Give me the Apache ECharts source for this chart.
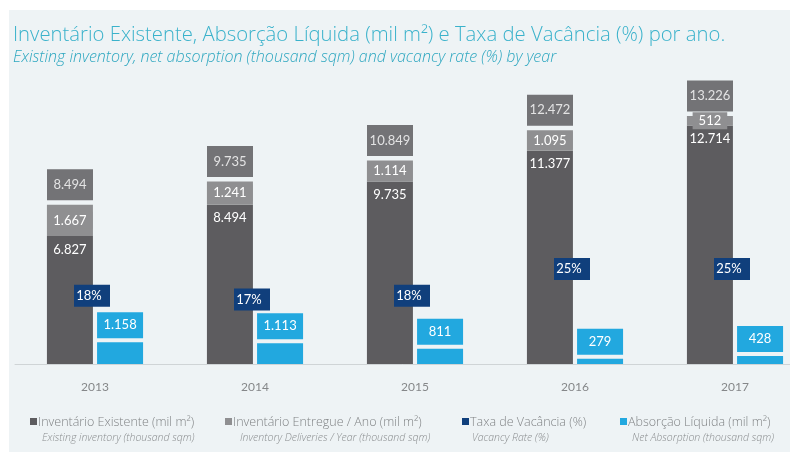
<!DOCTYPE html>
<html>
<head>
<meta charset="utf-8">
<script src="https://cdn.jsdelivr.net/npm/echarts@6/dist/echarts.min.js"></script>
<style>
  html, body { margin: 0; padding: 0; background: #ffffff; }
  #chart { width: 790px; height: 452px; }
</style>
</head>
<body>
<div id="chart"></div>
<script>
// Years on the category axis
var years = ['2013', '2014', '2015', '2016', '2017'];
// Existing inventory at start of year (thousand sqm)
var existing = [6827, 8494, 9735, 11377, 12714];
// Inventory delivered during the year (thousand sqm)
var deliveries = [1667, 1241, 1114, 1095, 512];
// Total inventory at end of year (thousand sqm)
var totals = [8494, 9735, 10849, 12472, 13226];
// Vacancy rate (%)
var vacancy = [18, 17, 18, 25, 25];
// Net absorption (thousand sqm)
var absorption = [1158, 1113, 811, 279, 428];

var C_DARK = '#5d5c5f';
var C_LIGHT = '#8f8f91';
var C_BOX = '#545356';
var C_NAVY = '#103f7c';
var C_CYAN = '#22a8df';
var FONT = 'Lato, "Open Sans", sans-serif';
var FONT_WIDE = '"Open Sans", Lato, sans-serif';

function fmt(n) {
  return String(n).replace(/\B(?=(\d{3})+(?!\d))/g, '.');
}

var chart = echarts.init(document.getElementById('chart'));

var legendItems = [
  { x: 30, color: C_DARK, pt: 'Inventário Existente (mil m²)', en: 'Existing inventory (thousand sqm)', enX: 42 },
  { x: 225, color: C_LIGHT, pt: 'Inventário Entregue / Ano (mil m²)', en: 'Inventory Deliveries / Year (thousand sqm)', enX: 240 },
  { x: 462, color: C_NAVY, pt: 'Taxa de Vacância (%)', en: 'Vacancy Rate (%)', enX: 472 },
  { x: 620, color: C_CYAN, pt: 'Absorção Líquida (mil m²)', en: 'Net Absorption (thousand sqm)', enX: 632 }
];

var graphics = [{
  type: 'rect', z: -10, silent: true,
  shape: { x: 9, y: 10, width: 781, height: 442 },
  style: { fill: '#eef3f5' }
}, {
  type: 'text', silent: true, x: 13, y: 35,
  style: {
    text: 'Inventário Existente, Absorção Líquida (mil m²) e Taxa de Vacância (%) por ano.',
    fill: '#3ab2cb', font: '300 20.3px ' + FONT_WIDE, verticalAlign: 'middle'
  }
}, {
  type: 'text', silent: true, x: 13, y: 57,
  style: {
    text: 'Existing inventory, net absorption (thousand sqm) and vacancy rate (%) by year',
    fill: '#2ea7c0', font: 'italic 300 16px ' + FONT_WIDE, verticalAlign: 'middle'
  }
}];
legendItems.forEach(function (it) {
  graphics.push({
    type: 'rect', silent: true,
    shape: { x: it.x, y: 418, width: 7, height: 7 },
    style: { fill: it.color }
  });
  graphics.push({
    type: 'text', silent: true, x: it.x + 8, y: 422,
    style: { text: it.pt, fill: '#818486', font: '300 12.5px ' + FONT_WIDE, verticalAlign: 'middle' }
  });
  graphics.push({
    type: 'text', silent: true, x: it.enX, y: 438,
    style: { text: it.en, fill: '#8a8d8f', font: 'italic 300 10.5px ' + FONT_WIDE, verticalAlign: 'middle' }
  });
});

chart.setOption({
  backgroundColor: '#ffffff',
  animation: false,
  graphic: graphics,
  grid: { left: 15, width: 800, top: 64, height: 300, outerBoundsMode: 'none', containLabel: false },
  xAxis: {
    type: 'category',
    data: years,
    axisTick: { show: false },
    axisLine: { lineStyle: { color: '#cfd4d6', width: 1 } },
    axisLabel: { color: '#858789', fontFamily: FONT, fontSize: 12, margin: 17 }
  },
  yAxis: [
    { type: 'value', min: 0, max: 16000, show: false },
    { type: 'value', min: 0, max: 79, show: false }
  ],
  series: [
    {
      name: 'Inventário Existente', type: 'bar', stack: 'inv',
      barWidth: 46, barGap: '9%',
      itemStyle: { color: C_DARK },
      label: {
        show: true, position: 'insideTop', distance: 7,
        color: '#ffffff', fontFamily: FONT, fontSize: 13,
        formatter: function (p) { return fmt(p.value); }
      },
      data: existing
    },
    {
      name: 'Inventário Entregue', type: 'bar', stack: 'inv',
      barWidth: 46,
      itemStyle: { color: C_LIGHT },
      label: {
        show: true, position: 'inside',
        color: '#ffffff', fontFamily: FONT, fontSize: 13,
        backgroundColor: C_LIGHT, padding: [2, 6],
        formatter: function (p) { return fmt(p.value); }
      },
      z: 3,
      data: deliveries
    },
    {
      name: 'Absorção Líquida', type: 'bar',
      barWidth: 46,
      itemStyle: { color: C_CYAN },
      label: {
        show: true, position: 'top', distance: 4,
        color: '#ffffff', fontFamily: FONT, fontSize: 13,
        backgroundColor: C_CYAN,
        width: 46, height: 26, lineHeight: 26, align: 'center', padding: 0,
        formatter: function (p) { return fmt(p.value); }
      },
      data: absorption
    },
    {
      name: 'Total', type: 'scatter',
      symbolSize: 1,
      itemStyle: { color: 'rgba(0,0,0,0)' },
      label: {
        show: true, position: 'top', distance: 4, offset: [-25, 0],
        color: '#ffffff', fontFamily: FONT, fontSize: 13,
        backgroundColor: C_BOX,
        width: 46, height: 31, lineHeight: 31, align: 'center', padding: 0,
        formatter: function (p) { return fmt(p.value); }
      },
      z: 4,
      data: totals
    },
    {
      name: 'Taxa de Vacância', type: 'scatter', yAxisIndex: 1,
      symbol: 'rect', symbolSize: [36, 22], symbolOffset: [-3, 0],
      itemStyle: { color: C_NAVY, opacity: 1 },
      label: {
        show: true, position: 'inside', offset: [-3, 0],
        color: '#ffffff', fontFamily: FONT, fontSize: 13,
        formatter: function (p) { return p.value + '%'; }
      },
      z: 6,
      data: vacancy
    }
  ]
});
</script>
</body>
</html>
